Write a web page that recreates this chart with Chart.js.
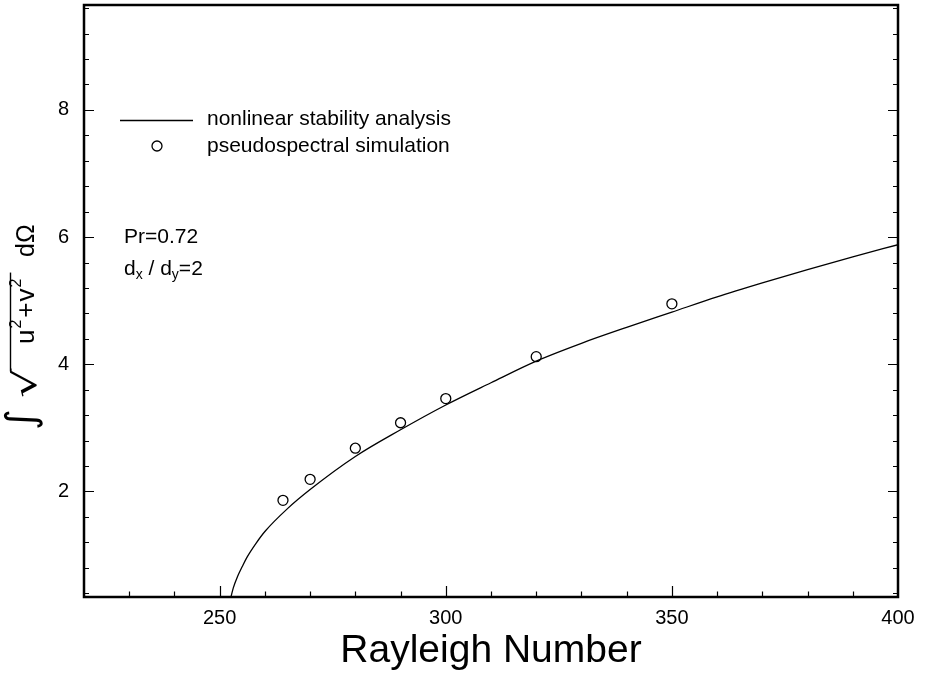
<!DOCTYPE html>
<html><head><meta charset="utf-8">
<script src="https://cdn.jsdelivr.net/npm/chart.js@4.4.0/dist/chart.umd.min.js"></script>
<style>html,body{margin:0;padding:0;background:#fff}canvas{display:block}</style>
</head><body>
<canvas id="c" width="928" height="677"></canvas>
<script>
// ---- data ----
const curveRa  = [252.5, 253, 254, 255, 256, 258, 260, 265, 270, 280, 290, 300, 310, 320, 330, 340, 350, 360, 370, 380, 390, 400];
const curveAmp = [0.34, 0.48, 0.67, 0.82, 0.96, 1.18, 1.37, 1.73, 2.03, 2.55, 2.97, 3.36, 3.71, 4.05, 4.33, 4.58, 4.82, 5.06, 5.28, 5.49, 5.69, 5.88];
const simRa  = [264, 270, 280, 290, 300, 320, 350];
const simAmp = [1.86, 2.19, 2.68, 3.08, 3.46, 4.12, 4.95];
const xLabelTicks = [250, 300, 350, 400];
const yLabelTicks = [2, 4, 6, 8];
const xRange = [220, 400];
const yRange = [0.34, 9.65];
const xMinorStep = 10;
const yMinorStep = 0.4;
const legendLabels = ['nonlinear stability analysis', 'pseudospectral simulation'];
const xTitle = 'Rayleigh Number';

const FONT = "'Liberation Sans', Arial, Helvetica, sans-serif";

function isLabelTick(list, v) { return list.some(t => Math.abs(t - v) < 1e-6); }

const ticksPlugin = {
  id: 'inwardTicks',
  afterDraw(chart) {
    const ctx = chart.ctx, a = chart.chartArea;
    const xs = chart.scales.x, ys = chart.scales.y;
    ctx.save();
    ctx.strokeStyle = '#000';
    ctx.lineWidth = 1.2;
    ctx.beginPath();
    xs.ticks.forEach(t => {
      const v = t.value;
      if (v <= xRange[0] + 1e-6 || v >= xRange[1] - 1e-6) return;
      const p = Math.round(xs.getPixelForValue(v)) + 0.5;
      const len = (v % 50 === 0) ? 11 : 5.5;
      ctx.moveTo(p, a.bottom); ctx.lineTo(p, a.bottom - len);
    });
    ys.ticks.forEach(t => {
      const v = t.value;
      if (v <= yRange[0] + 1e-6 || v >= yRange[1] - 1e-6) return;
      const p = Math.round(ys.getPixelForValue(v)) + 0.5;
      const len = isLabelTick(yLabelTicks, v) ? 10 : 5;
      ctx.moveTo(a.left, p); ctx.lineTo(a.left + len, p);
      ctx.moveTo(a.right, p); ctx.lineTo(a.right - len, p);
    });
    ctx.stroke();
    // frame
    ctx.lineWidth = 2.5;
    ctx.strokeRect(a.left, a.top, a.right - a.left, a.bottom - a.top);
    ctx.restore();
  }
};

const decorPlugin = {
  id: 'decor',
  afterDraw(chart) {
    const ctx = chart.ctx;
    ctx.save();
    ctx.fillStyle = '#000';
    ctx.strokeStyle = '#000';
    // legend
    ctx.font = `21px ${FONT}`;
    ctx.textBaseline = 'middle';
    ctx.textAlign = 'left';
    ctx.lineWidth = 1.3;
    ctx.beginPath(); ctx.moveTo(120, 120.5); ctx.lineTo(193, 120.5); ctx.stroke();
    ctx.fillText(legendLabels[0], 207, 119);
    ctx.beginPath(); ctx.arc(157, 146, 5, 0, Math.PI * 2); ctx.stroke();
    ctx.fillText(legendLabels[1], 207, 146);
    // annotation
    ctx.fillText('Pr=0.72', 124, 237);
    let x = 124, y = 269;
    const seg = (txt, size, dy) => {
      ctx.font = `${size}px ${FONT}`;
      ctx.fillText(txt, x, y + dy);
      x += ctx.measureText(txt).width;
    };
    seg('d', 21, 0); seg('x', 14, 6); seg(' / d', 21, 0); seg('y', 14, 6); seg('=2', 21, 0);

    // y-axis title (rotated)
    ctx.translate(34, 330);
    ctx.rotate(-Math.PI / 2);
    ctx.textBaseline = 'alphabetic';
    const put = (txt, rx, size, dy, fam) => {
      ctx.font = `${size}px ${fam || FONT}`;
      ctx.fillText(txt, rx, dy);
      return rx + ctx.measureText(txt).width;
    };
    put('\u222B', -100, 40, 0, "'DejaVu Sans'");
    ctx.save();
    ctx.translate(-68, 0);
    ctx.scale(1.45, 1);
    ctx.font = `32px 'DejaVu Sans'`;
    ctx.fillText('\u221A', 0, 2);
    const radW = ctx.measureText('\u221A').width * 1.45;
    ctx.restore();
    x = -14;
    x = put('u', x, 26, 0) + 1;
    x = put('2', x, 16, -13) + 2;
    x = put('+', x, 26, 0) + 1;
    x = put('v', x, 26, 0) + 1;
    x = put('2', x, 16, -13);
    ctx.lineWidth = 1.4;
    ctx.beginPath(); ctx.moveTo(-68 + radW - 3, -23.5); ctx.lineTo(x + 6, -23.5); ctx.stroke();
    put('d\u03A9', 73, 25, 0);
    ctx.restore();
  }
};

new Chart(document.getElementById('c'), {
  type: 'scatter',
  data: {
    datasets: [
      {
        label: legendLabels[1],
        data: simRa.map((r, i) => ({ x: r, y: simAmp[i] })),
        pointStyle: 'circle',
        pointRadius: 5,
        pointBorderWidth: 1.3,
        pointBorderColor: '#000',
        pointBackgroundColor: 'rgba(255,255,255,0)',
        showLine: false,
        order: 0
      },
      {
        label: legendLabels[0],
        data: curveRa.map((r, i) => ({ x: r, y: curveAmp[i] })),
        showLine: true,
        borderColor: '#000',
        borderWidth: 1.3,
        pointRadius: 0,
        cubicInterpolationMode: 'monotone',
        fill: false,
        order: 1
      }
    ]
  },
  options: {
    responsive: false,
    animation: false,
    devicePixelRatio: 1,
    layout: { autoPadding: false, padding: { left: 0, right: 30, top: 5, bottom: 0 } },
    plugins: { legend: { display: false }, tooltip: { enabled: false } },
    scales: {
      x: {
        type: 'linear',
        min: xRange[0], max: xRange[1],
        afterFit(s) { s.height = 80; s.paddingLeft = 0; s.paddingRight = 0; s.paddingTop = 0; s.paddingBottom = 0; },
        border: { display: false },
        grid: { display: false, drawTicks: false },
        ticks: {
          stepSize: xMinorStep,
          includeBounds: false,
          autoSkip: false,
          maxRotation: 0,
          padding: 9,
          color: '#000',
          font: { family: FONT, size: 20 },
          callback: v => isLabelTick(xLabelTicks, v) ? String(v) : ''
        },
        title: {
          display: true,
          text: xTitle,
          color: '#000',
          font: { family: FONT, size: 39 },
          padding: { top: 0, bottom: 2 }
        }
      },
      y: {
        type: 'linear',
        min: yRange[0], max: yRange[1],
        afterFit(s) { s.width = 84; s.paddingLeft = 0; s.paddingRight = 0; s.paddingTop = 0; s.paddingBottom = 0; },
        border: { display: false },
        grid: { display: false, drawTicks: false },
        ticks: {
          stepSize: yMinorStep,
          includeBounds: false,
          autoSkip: false,
          padding: 15,
          color: '#000',
          font: { family: FONT, size: 20 },
          callback: v => isLabelTick(yLabelTicks, v) ? String(Math.round(v)) : ''
        }
      }
    }
  },
  plugins: [ticksPlugin, decorPlugin]
});
</script>
</body></html>
